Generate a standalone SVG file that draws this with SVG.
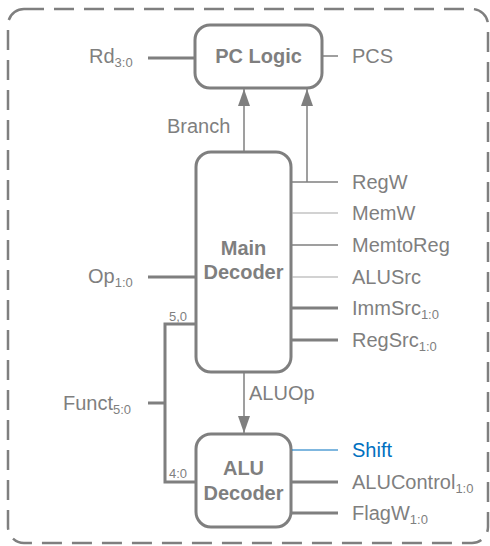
<svg xmlns="http://www.w3.org/2000/svg" width="490" height="546" viewBox="0 0 490 546">
<style>
text{font-family:"Liberation Sans",Arial,sans-serif;fill:#7f7f7f;font-size:20px}
.b{font-weight:bold;text-anchor:middle}
.s{font-size:13px}
.box{fill:#fff;stroke:#7f7f7f;stroke-width:3}
.w{stroke:#7f7f7f;fill:none}
.t3{stroke-width:3}
.t15{stroke-width:1.5}
.t1{stroke:#a6a6a6;stroke-width:1.2}
</style>
<defs>
<marker id="ah" markerWidth="17" markerHeight="12" refX="17" refY="6" orient="auto" markerUnits="userSpaceOnUse" viewBox="0 0 17 12">
<path d="M0,0 L17,6 L0,12 Z" fill="#7f7f7f"/>
</marker>
</defs>
<rect x="8" y="9" width="480" height="534" rx="16" fill="none" stroke="#7f7f7f" stroke-width="2.5" stroke-dasharray="20,10"/>
<g id="pclogic">
<rect class="box" x="195" y="25" width="127" height="63" rx="15"/>
<text class="b" x="258.5" y="63">PC Logic</text>
</g>
<g id="maindecoder">
<rect class="box" x="196" y="152" width="95" height="220" rx="15"/>
<text class="b" x="243.5" y="255">Main</text>
<text class="b" x="243.5" y="279">Decoder</text>
</g>
<g id="aludecoder">
<rect class="box" x="196" y="434" width="95" height="93" rx="15"/>
<text class="b" x="243.5" y="475">ALU</text>
<text class="b" x="243.5" y="500">Decoder</text>
</g>
<g id="connectors">
<line class="w t3" x1="148" y1="58" x2="194" y2="58"/>
<line class="w t15" x1="323" y1="56" x2="338" y2="56"/>
<line class="w t15" x1="244" y1="151" x2="244" y2="89" marker-end="url(#ah)"/>
<line class="w t15" x1="307" y1="182" x2="307" y2="89" marker-end="url(#ah)"/>
<line class="w t15" x1="292" y1="182" x2="338" y2="182"/>
<line class="w t1" x1="292" y1="213" x2="338" y2="213"/>
<line class="w t15" x1="292" y1="245" x2="338" y2="245"/>
<line class="w t1" x1="292" y1="277" x2="338" y2="277"/>
<line class="w t3" x1="292" y1="308" x2="338" y2="308"/>
<line class="w t3" x1="292" y1="340" x2="338" y2="340"/>
<line class="w t3" x1="148" y1="277" x2="195" y2="277"/>
<polyline class="w t3" points="195,324 165,324 165,482 195,482"/>
<line class="w t3" x1="148" y1="403" x2="165" y2="403"/>
<line class="w t15" x1="244" y1="373" x2="244" y2="433" marker-end="url(#ah)"/>
<line x1="292" y1="450" x2="338" y2="450" stroke="#0070c0" stroke-width="1.2"/>
<line class="w t3" x1="292" y1="482" x2="338" y2="482"/>
<line class="w t3" x1="292" y1="513" x2="338" y2="513"/>
</g>
<g id="labels">
<text x="89" y="63">Rd<tspan class="s" dy="4">3:0</tspan></text>
<text x="352" y="63">PCS</text>
<text x="167" y="133">Branch</text>
<text x="352" y="189">RegW</text>
<text x="352" y="220">MemW</text>
<text x="352" y="252">MemtoReg</text>
<text x="352" y="284">ALUSrc</text>
<text x="352" y="315">ImmSrc<tspan class="s" dy="4">1:0</tspan></text>
<text x="352" y="347">RegSrc<tspan class="s" dy="4">1:0</tspan></text>
<text x="88" y="283">Op<tspan class="s" dy="4">1:0</tspan></text>
<text class="s" x="169" y="321">5,0</text>
<text class="s" x="169" y="478">4:0</text>
<text x="63" y="410">Funct<tspan class="s" dy="4">5:0</tspan></text>
<text x="249" y="400">ALUOp</text>
<text x="352" y="457" style="fill:#0070c0">Shift</text>
<text x="352" y="489">ALUControl<tspan class="s" dy="4">1:0</tspan></text>
<text x="352" y="520">FlagW<tspan class="s" dy="4">1:0</tspan></text>
</g>
</svg>
